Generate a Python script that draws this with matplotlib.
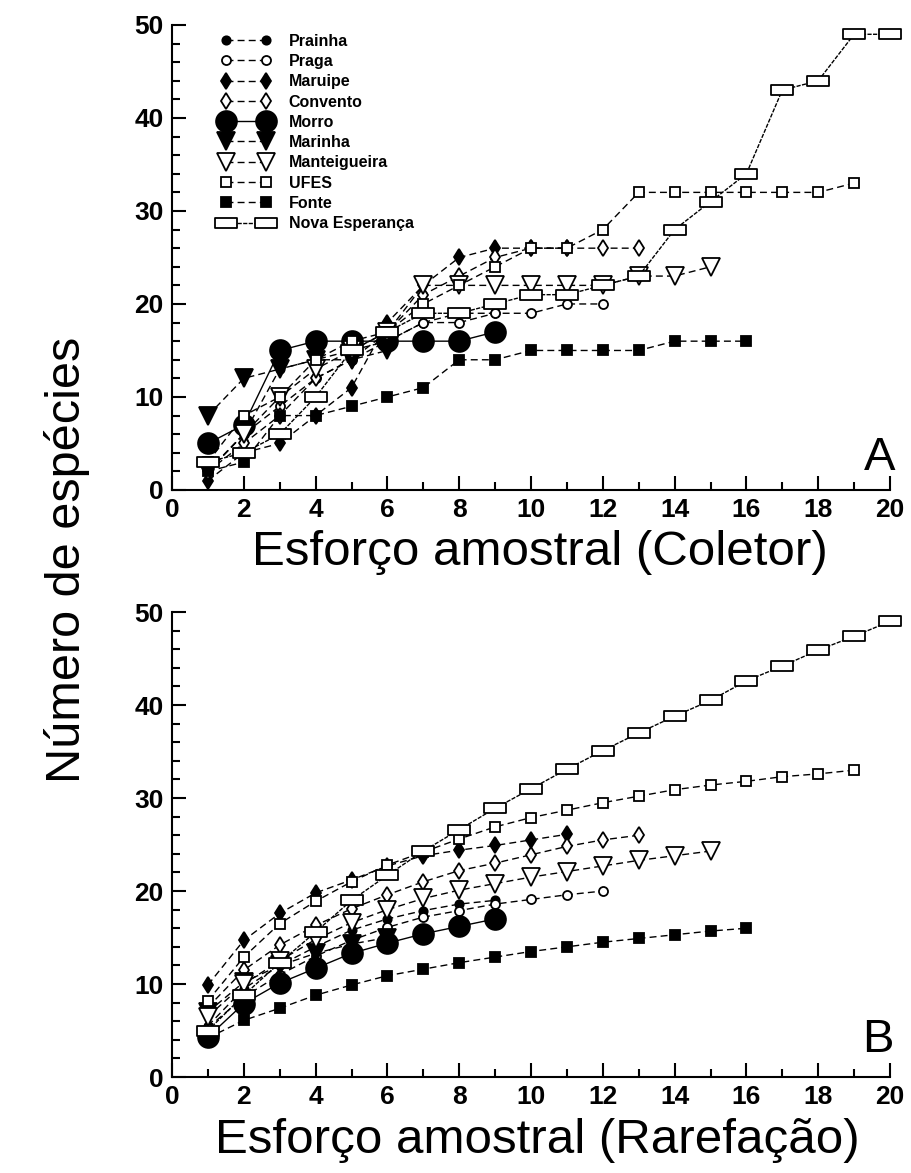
import matplotlib.pyplot as plt
import numpy as np
from matplotlib.path import Path
from matplotlib.ticker import MultipleLocator

plt.rcParams['font.family'] = ['Liberation Sans', 'DejaVu Sans']

names = ["Prainha", "Praga", "Maruipe", "Convento", "Morro", "Marinha",
         "Manteigueira", "UFES", "Fonte", "Nova Esperança"]

# A - coletor
prainha_a = [2, 6, 13, 14, 15, 16, 18, 19, 19]
praga_a = [2, 6, 9, 12, 14, 16, 18, 18, 19, 19, 20, 20]
maruipe_a = [1, 4, 5, 8, 11, 18, 22, 25, 26, 26, 26]
convento_a = [2, 5, 8, 12, 14, 17, 21, 23, 25, 26, 26, 26, 26]
morro_a = [5, 7, 15, 16, 16, 16, 16, 16, 17]
marinha_a = [8, 12, 13, 14, 14, 15]
manteig_a = [2, 6, 10, 13, 15, 17, 22, 22, 22, 22, 22, 22, 23, 23, 24]
ufes_a = [3, 8, 10, 14, 16, 17, 20, 22, 24, 26, 26, 28, 32, 32, 32, 32, 32, 32, 33]
fonte_a = [2, 3, 8, 8, 9, 10, 11, 14, 14, 15, 15, 15, 15, 16, 16, 16]
nova_a = [3, 4, 6, 10, 15, 17, 19, 19, 20, 21, 21, 22, 23, 28, 31, 34, 43, 44, 49, 49]

# B - rarefacao
prainha_b = [5.5, 9.5, 12.0, 14.0, 15.8, 17.0, 17.9, 18.6, 19.0]
praga_b = [5.3, 8.6, 11.0, 13.0, 14.7, 16.1, 17.2, 17.9, 18.6, 19.1, 19.6, 20.0]
maruipe_b = [9.9, 14.7, 17.6, 19.8, 21.2, 22.7, 23.8, 24.4, 24.9, 25.5, 26.1]
convento_b = [7.5, 11.5, 14.2, 16.3, 18.1, 19.6, 21.0, 22.2, 23.0, 23.9, 24.8, 25.5, 26.0]
morro_b = [4.3, 7.9, 10.1, 11.7, 13.3, 14.4, 15.4, 16.2, 17.0]
marinha_b = [7.0, 10.2, 12.0, 13.3, 14.3, 15.0]
manteig_b = [6.5, 10.0, 12.5, 14.8, 16.6, 18.0, 19.2, 20.1, 20.8, 21.5, 22.1, 22.7, 23.3, 23.8, 24.3]
ufes_b = [8.2, 12.9, 16.5, 18.9, 21.0, 22.8, 24.2, 25.6, 26.9, 27.9, 28.7, 29.5, 30.2,
          30.9, 31.4, 31.8, 32.3, 32.6, 33.0]
fonte_b = [4.2, 6.1, 7.4, 8.8, 9.9, 10.9, 11.6, 12.3, 12.9, 13.5, 14.0, 14.5, 14.9, 15.3, 15.7, 16.0]
nova_b = [5.0, 8.8, 12.3, 15.6, 19.0, 21.7, 24.3, 26.6, 28.9, 31.0, 33.1, 35.1, 37.0, 38.8,
          40.5, 42.6, 44.2, 45.9, 47.4, 49.0]

series_a = [prainha_a, praga_a, maruipe_a, convento_a, morro_a, marinha_a,
            manteig_a, ufes_a, fonte_a, nova_a]
series_b = [prainha_b, praga_b, maruipe_b, convento_b, morro_b, marinha_b,
            manteig_b, ufes_b, fonte_b, nova_b]

# wide rectangle marker for Nova Esperanca
rect = Path([(-1, -0.45), (1, -0.45), (1, 0.45), (-1, 0.45), (-1, -0.45)],
            [Path.MOVETO, Path.LINETO, Path.LINETO, Path.LINETO, Path.CLOSEPOLY])

dash = (0, (5, 3))
styles = [
    dict(marker='o', ms=6, mfc='k', ls=dash),
    dict(marker='o', ms=6.5, mfc='w', ls=dash),
    dict(marker='d', ms=8.5, mfc='k', ls=dash),
    dict(marker='d', ms=8.5, mfc='w', ls=dash),
    dict(marker='o', ms=15, mfc='k', ls='-'),
    dict(marker='v', ms=12.5, mfc='k', ls=dash),
    dict(marker='v', ms=12.5, mfc='w', ls=dash),
    dict(marker='s', ms=7, mfc='w', ls=dash),
    dict(marker='s', ms=7.5, mfc='k', ls=dash),
    dict(marker=rect, ms=16, mfc='w', ls=(0, (3, 1))),
]

fig = plt.figure(figsize=(9.12, 11.73), dpi=100)
axA = fig.add_axes([0.1886, 0.5823, 0.7873, 0.3964])
axB = fig.add_axes([0.1886, 0.0818, 0.7873, 0.3964])

for ax, data in [(axA, series_a), (axB, series_b)]:
    handles = []
    for nm, ys, st in zip(names, data, styles):
        xs = np.arange(1, len(ys) + 1)
        h, = ax.plot(xs, ys, color='k', lw=1, mec='k', mew=1.3,
                     clip_on=False, label=nm, **st)
        handles.append(h)
    ax.set_xlim(0, 20)
    ax.set_ylim(0, 50)
    ax.spines['top'].set_visible(False)
    ax.spines['right'].set_visible(False)
    ax.spines['left'].set_linewidth(1.5)
    ax.spines['bottom'].set_linewidth(1.5)
    ax.xaxis.set_major_locator(MultipleLocator(2))
    ax.xaxis.set_minor_locator(MultipleLocator(1))
    ax.yaxis.set_major_locator(MultipleLocator(10))
    ax.yaxis.set_minor_locator(MultipleLocator(2))
    ax.tick_params(which='both', direction='in', width=1.5, labelsize=19, pad=6)
    ax.tick_params(which='major', length=10)
    ax.tick_params(which='minor', length=6)
    for lab in ax.get_xticklabels() + ax.get_yticklabels():
        lab.set_fontweight('bold')

axA.legend(handles=handles, loc='upper left', bbox_to_anchor=(0.06, 0.995),
           frameon=False, numpoints=2, handlelength=3.1, handletextpad=1.1,
           labelspacing=0.33, borderaxespad=0,
           prop=dict(weight='bold', size=11.5))

axA.text(0.986, 0.069, 'A', transform=axA.transAxes, ha='center', va='center', fontsize=34)
axB.text(0.983, 0.08, 'B', transform=axB.transAxes, ha='center', va='center', fontsize=34)

fig.text(0.592, 0.5286, 'Esforço amostral (Coletor)', ha='center', va='center', fontsize=35.5)
fig.text(0.589, 0.028, 'Esforço amostral (Rarefação)', ha='center', va='center', fontsize=35.5)
fig.text(0.073, 0.5226, 'Número de espécies', ha='center', va='center',
         rotation=90, fontsize=35)

fig.savefig('out.png', dpi=100)
